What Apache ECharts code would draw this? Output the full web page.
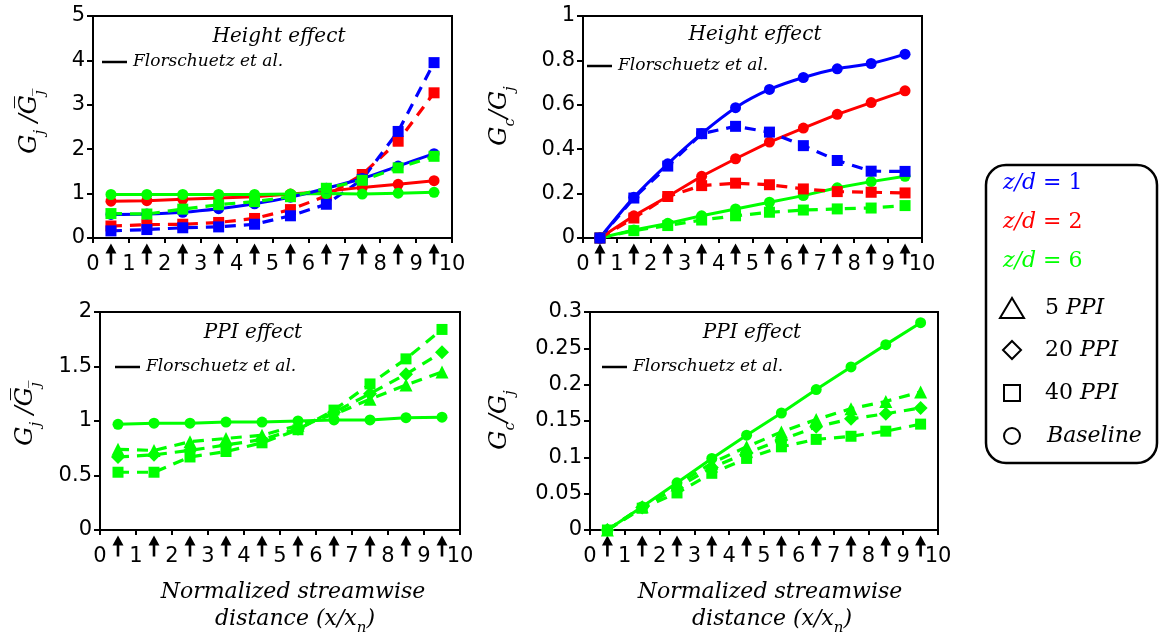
<!DOCTYPE html>
<html><head><meta charset="utf-8">
<script src="https://cdn.jsdelivr.net/npm/echarts@6/dist/echarts.min.js"></script>
<style>html,body{margin:0;padding:0;background:#fff}#c{width:1163px;height:637px}</style>
</head><body><div id="c"></div>
<script>
// ---------- data ----------
const xs = [0.5, 1.5, 2.5, 3.5, 4.5, 5.5, 6.5, 7.5, 8.5, 9.5];
const xTicks = [0, 1, 2, 3, 4, 5, 6, 7, 8, 9, 10];

// Top-left: Gj / mean(Gj), height effect
const tlZ1Base = [0.53, 0.54, 0.58, 0.66, 0.77, 0.92, 1.12, 1.34, 1.62, 1.90];
const tlZ2Base = [0.83, 0.84, 0.87, 0.90, 0.93, 0.99, 1.05, 1.14, 1.21, 1.29];
const tlZ6Base = [0.98, 0.98, 0.98, 0.98, 0.98, 0.99, 1.00, 0.99, 1.01, 1.03];
const tlZ1P40 = [0.16, 0.19, 0.23, 0.25, 0.31, 0.50, 0.76, 1.32, 2.40, 3.95];
const tlZ2P40 = [0.27, 0.30, 0.31, 0.35, 0.44, 0.64, 0.95, 1.43, 2.18, 3.27];
const tlZ6P40 = [0.55, 0.54, 0.65, 0.75, 0.82, 0.93, 1.12, 1.30, 1.58, 1.84];

// Top-right: Gc / Gj, height effect
const trZ1Base = [0, 0.183, 0.334, 0.470, 0.587, 0.669, 0.723, 0.762, 0.786, 0.828];
const trZ2Base = [0, 0.100, 0.187, 0.278, 0.357, 0.432, 0.495, 0.557, 0.610, 0.663];
const trZ6Base = [0, 0.036, 0.066, 0.100, 0.131, 0.161, 0.191, 0.226, 0.254, 0.278];
const trZ1P40 = [0, 0.180, 0.324, 0.470, 0.503, 0.477, 0.416, 0.349, 0.301, 0.300];
const trZ2P40 = [0, 0.090, 0.187, 0.236, 0.247, 0.240, 0.221, 0.209, 0.206, 0.203];
const trZ6P40 = [0, 0.033, 0.056, 0.081, 0.100, 0.116, 0.126, 0.131, 0.135, 0.146];

// Bottom-left: Gj / mean(Gj), PPI effect (z/d = 6)
const blBase = [0.97, 0.98, 0.98, 0.99, 0.99, 1.00, 1.01, 1.01, 1.03, 1.035];
const blP5   = [0.74, 0.73, 0.81, 0.84, 0.87, 0.96, 1.06, 1.20, 1.33, 1.45];
const blP20  = [0.67, 0.69, 0.73, 0.78, 0.83, 0.93, 1.08, 1.25, 1.43, 1.63];
const blP40  = [0.53, 0.53, 0.67, 0.72, 0.80, 0.92, 1.10, 1.34, 1.57, 1.84];

// Bottom-right: Gc / Gj, PPI effect (z/d = 6)
const brBase = [0, 0.032, 0.065, 0.0985, 0.1305, 0.161, 0.1933, 0.2244, 0.2551, 0.2853];
const brP5   = [0, 0.032, 0.062, 0.092, 0.1145, 0.135, 0.152, 0.167, 0.177, 0.190];
const brP20  = [0, 0.031, 0.058, 0.086, 0.106, 0.124, 0.142, 0.153, 0.160, 0.168];
const brP40  = [0, 0.030, 0.051, 0.078, 0.0985, 0.1145, 0.1247, 0.129, 0.136, 0.1457];

const yTicksTL = [0, 1, 2, 3, 4, 5];
const yTicksTR = [0, 0.2, 0.4, 0.6, 0.8, 1];
const yTicksBL = [0, 0.5, 1, 1.5, 2];
const yTicksBR = [0, 0.05, 0.1, 0.15, 0.2, 0.25, 0.3];

const panelTitles = ['Height effect', 'Height effect', 'PPI effect', 'PPI effect'];
const corrLabel = 'Florschuetz et al.';
const legendZ = ['1', '2', '6'];
const legendPPI = ['5', '20', '40'];

// ---------- styling ----------
const BLUE = '#0000ff', RED = '#ff0000', GREEN = '#00ff00';
const SERIF = '"DejaVu Serif", serif';
const SANS = '"DejaVu Sans", Arial, sans-serif';
const grids = [
  {left: 93, top: 16, width: 359, height: 222},
  {left: 583, top: 16, width: 339, height: 222},
  {left: 100, top: 312, width: 360, height: 218},
  {left: 590, top: 312, width: 348, height: 218}
];
const yTickSets = [yTicksTL, yTicksTR, yTicksBL, yTicksBR];

const pts = arr => xs.map((x, i) => [x, arr[i]]);
const fmt = v => String(+v.toFixed(2));

function solid(gi, arr, color, symbol, size, smooth) {
  return {type: 'line', xAxisIndex: gi, yAxisIndex: gi, data: pts(arr), clip: false,
    smooth: smooth || false, symbol: symbol, symbolSize: size, showSymbol: true,
    lineStyle: {color: color, width: 3}, itemStyle: {color: color}, z: 3};
}
function dashed(gi, arr, color, symbol, size) {
  return {type: 'line', xAxisIndex: gi, yAxisIndex: gi, data: pts(arr), clip: false,
    symbol: symbol, symbolSize: size, showSymbol: true,
    lineStyle: {color: color, width: 3.2, type: [11, 8]}, itemStyle: {color: color}, z: 3};
}
const ARROW = 'path://M5.5,0 L11,10 L6.8,10 L6.8,21 L4.2,21 L4.2,10 L0,10 Z';
function arrows(gi) {
  return {type: 'scatter', xAxisIndex: gi, yAxisIndex: gi, data: xs.map(x => [x, 0]),
    symbol: ARROW, symbolSize: [11, 21], symbolOffset: [0, 16], clip: false, silent: true,
    itemStyle: {color: '#000', opacity: 1}, z: 1};
}

const xAxes = grids.map((g, i) => ({
  type: 'value', gridIndex: i, min: xTicks[0], max: xTicks[xTicks.length - 1], interval: 1,
  axisLine: {show: true, lineStyle: {color: '#000', width: 2}},
  axisTick: {show: true, inside: false, length: 5, lineStyle: {color: '#000', width: 2}},
  axisLabel: {color: '#000', fontSize: 21, fontFamily: SANS, margin: 16},
  splitLine: {show: false}
}));
const yAxes = grids.map((g, i) => {
  const t = yTickSets[i];
  return {
    type: 'value', gridIndex: i, min: t[0], max: t[t.length - 1], interval: t[1] - t[0],
    axisLine: {show: true, lineStyle: {color: '#000', width: 2}},
    axisTick: {show: true, inside: false, length: 6, lineStyle: {color: '#000', width: 2}},
    axisLabel: {color: '#000', fontSize: 21, fontFamily: SANS, margin: 8, formatter: fmt},
    splitLine: {show: false}
  };
});

const series = [
  // top-left
  dashed(0, tlZ2P40, RED, 'rect', 11),
  dashed(0, tlZ1P40, BLUE, 'rect', 11),
  solid(0, tlZ2Base, RED, 'circle', 11),
  solid(0, tlZ6Base, GREEN, 'circle', 11),
  solid(0, tlZ1Base, BLUE, 'circle', 11, 0.3),
  dashed(0, tlZ6P40, GREEN, 'rect', 11),
  // top-right
  solid(1, trZ6Base, GREEN, 'circle', 11),
  dashed(1, trZ6P40, GREEN, 'rect', 11),
  solid(1, trZ2Base, RED, 'circle', 11),
  dashed(1, trZ2P40, RED, 'rect', 11),
  dashed(1, trZ1P40, BLUE, 'rect', 11),
  solid(1, trZ1Base, BLUE, 'circle', 11, 0.35),
  // bottom-left
  solid(2, blBase, GREEN, 'circle', 11),
  dashed(2, blP40, GREEN, 'rect', 11),
  dashed(2, blP20, GREEN, 'diamond', 14),
  dashed(2, blP5, GREEN, 'triangle', 13),
  // bottom-right
  solid(3, brBase, GREEN, 'circle', 11),
  dashed(3, brP40, GREEN, 'rect', 11),
  dashed(3, brP20, GREEN, 'diamond', 14),
  dashed(3, brP5, GREEN, 'triangle', 13),
  arrows(0), arrows(1), arrows(2), arrows(3)
];

// ---------- text / annotations ----------
const subRich = {
  g: {fontFamily: SERIF, fontStyle: 'italic', fontSize: 24, lineHeight: 30, verticalAlign: 'top', fill: '#000'},
  s: {fontFamily: SERIF, fontStyle: 'italic', fontSize: 15, lineHeight: 15, verticalAlign: 'bottom', fill: '#000'}
};
const yNameGj = '{g|G}{s|j}{g| /G\u0305}{s|j\u0305}';
const yNameGc = '{g|G}{s|c}{g|/G}{s|j}';
const yNames = [
  {text: yNameGj, x: 33, y: 122},
  {text: yNameGc, x: 503, y: 116},
  {text: yNameGj, x: 29, y: 414},
  {text: yNameGc, x: 503, y: 420}
];
const titlePos = [[279, 37], [755, 35], [253, 333], [752, 333]];
const corrPos = [[102, 62], [587, 66], [115, 367], [602, 367]];

const graphic = [];
yNames.forEach(n => graphic.push({type: 'text', x: n.x, y: n.y, rotation: Math.PI / 2, z: 10,
  style: {text: n.text, rich: subRich, align: 'center', verticalAlign: 'middle'}}));
titlePos.forEach((p, i) => graphic.push({type: 'text', x: p[0], y: p[1], z: 10,
  style: {text: panelTitles[i], fontFamily: SERIF, fontStyle: 'italic', fontSize: 20, fill: '#000',
    align: 'center', verticalAlign: 'middle'}}));
corrPos.forEach(p => {
  graphic.push({type: 'line', z: 10, shape: {x1: p[0], y1: p[1], x2: p[0] + 25, y2: p[1]},
    style: {stroke: '#000', lineWidth: 2.5}});
  graphic.push({type: 'text', x: p[0] + 31, y: p[1], z: 10,
    style: {text: corrLabel, fontFamily: SERIF, fontStyle: 'italic', fontSize: 17, fill: '#000',
      align: 'left', verticalAlign: 'middle'}});
});
// x-axis titles (bottom panels)
const xNameRich = {
  g: {fontFamily: SERIF, fontStyle: 'italic', fontSize: 22, lineHeight: 28, verticalAlign: 'top', fill: '#000'},
  s: {fontFamily: SERIF, fontStyle: 'italic', fontSize: 15, lineHeight: 12, verticalAlign: 'bottom', fill: '#000'}
};
[[293, 592], [770, 592]].forEach(p => {
  graphic.push({type: 'text', x: p[0], y: p[1], z: 10,
    style: {text: 'Normalized streamwise', fontFamily: SERIF, fontStyle: 'italic', fontSize: 22, fill: '#000',
      align: 'center', verticalAlign: 'middle'}});
  graphic.push({type: 'text', x: p[0] + 2, y: p[1] + 30, z: 10,
    style: {text: '{g|distance (x/x}{s|n}{g|)}', rich: xNameRich, align: 'center', verticalAlign: 'middle'}});
});
// legend box
graphic.push({type: 'rect', z: 10, shape: {x: 986, y: 165, width: 171, height: 298, r: 20},
  style: {fill: '#fff', stroke: '#000', lineWidth: 2.5}});
const zColors = [BLUE, RED, GREEN];
legendZ.forEach((v, i) => {
  graphic.push({type: 'text', x: 1003, y: 183 + i * 39, z: 11,
    style: {text: '{i|z/d}{n| = ' + v + '}', align: 'left', verticalAlign: 'middle',
      rich: {i: {fontFamily: SERIF, fontStyle: 'italic', fontSize: 22, fill: zColors[i]},
             n: {fontFamily: SERIF, fontSize: 22, fill: zColors[i]}}}});
});
const markY = [308, 350, 393, 436];
const markerStyle = {fill: 'none', stroke: '#000', lineWidth: 2};
graphic.push({type: 'polygon', z: 11, shape: {points: [[1000, 318], [1024, 318], [1012, 298]]}, style: markerStyle});
graphic.push({type: 'polygon', z: 11, shape: {points: [[1012, 341], [1021, 350], [1012, 359], [1003, 350]]}, style: markerStyle});
graphic.push({type: 'rect', z: 11, shape: {x: 1004, y: 385, width: 16, height: 16}, style: markerStyle});
graphic.push({type: 'circle', z: 11, shape: {cx: 1012, cy: 436, r: 8}, style: markerStyle});
legendPPI.forEach((v, i) => {
  graphic.push({type: 'text', x: 1045, y: markY[i], z: 11,
    style: {text: '{n|' + v + ' }{i|PPI}', align: 'left', verticalAlign: 'middle',
      rich: {i: {fontFamily: SERIF, fontStyle: 'italic', fontSize: 22, fill: '#000'},
             n: {fontFamily: SERIF, fontSize: 22, fill: '#000'}}}});
});
graphic.push({type: 'text', x: 1047, y: markY[3], z: 11,
  style: {text: 'Baseline', fontFamily: SERIF, fontStyle: 'italic', fontSize: 22, fill: '#000',
    align: 'left', verticalAlign: 'middle'}});

const chart = echarts.init(document.getElementById('c'), null, {renderer: 'canvas'});
chart.setOption({
  animation: false,
  backgroundColor: '#fff',
  grid: grids.map(g => Object.assign({show: true, borderColor: '#000', borderWidth: 2, backgroundColor: 'transparent'}, g)),
  xAxis: xAxes,
  yAxis: yAxes,
  series: series,
  graphic: graphic
});
</script></body></html>
